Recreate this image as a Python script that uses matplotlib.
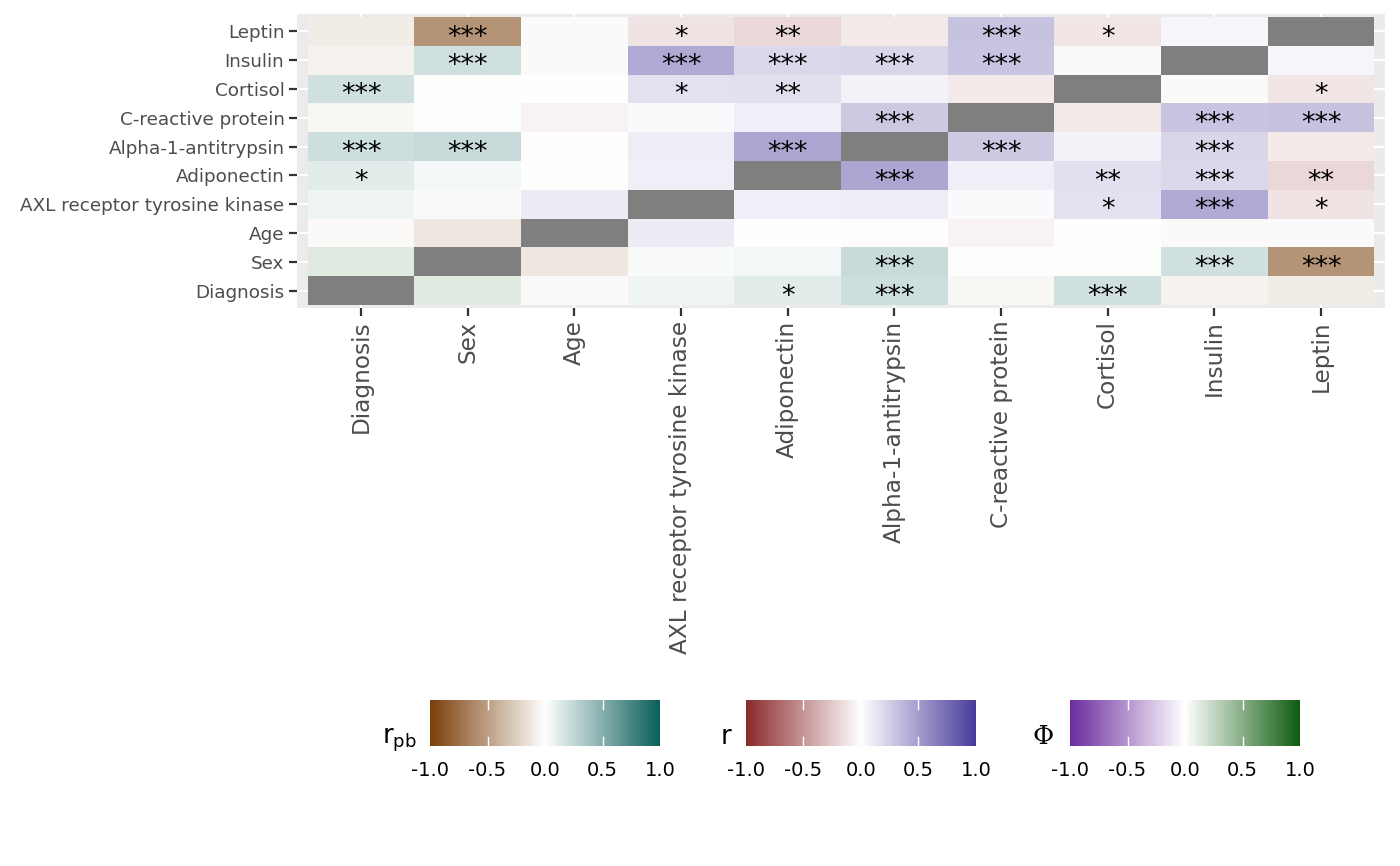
import numpy as np
import matplotlib
matplotlib.use("Agg")
import matplotlib.pyplot as plt
from matplotlib.colors import LinearSegmentedColormap, ListedColormap, Normalize
from matplotlib.cm import ScalarMappable

plt.rcParams['axes.unicode_minus'] = False
plt.rcParams['mathtext.fontset'] = 'dejavusans'

# Variables (bottom to top on y, left to right on x)
VARS = ["Diagnosis", "Sex", "Age", "AXL receptor tyrosine kinase", "Adiponectin",
        "Alpha-1-antitrypsin", "C-reactive protein", "Cortisol", "Insulin", "Leptin"]
BINARY = ["Diagnosis", "Sex"]

# Lower triangle of the correlation matrix (row i, columns 0..i-1)
LOWER_VALUES = [
    [],
    [0.13],
    [-0.03, -0.12],
    [0.065, 0.03, 0.10],
    [0.12, 0.053, 0.0, 0.08],
    [0.21, 0.22, -0.01, 0.09, 0.45],
    [-0.04, 0.01, -0.06, 0.03, 0.08, 0.28],
    [0.19, -0.01, 0.0, 0.15, 0.16, 0.07, -0.10],
    [-0.07, 0.195, -0.03, 0.43, 0.20, 0.21, 0.30, -0.03],
    [-0.10, -0.56, 0.03, -0.13, -0.18, -0.10, 0.31, -0.12, 0.05],
]
LOWER_STARS = [
    [],
    [""],
    ["", ""],
    ["", "", ""],
    ["*", "", "", ""],
    ["***", "***", "", "", "***"],
    ["", "", "", "", "", "***"],
    ["***", "", "", "*", "**", "", ""],
    ["", "***", "", "***", "***", "***", "***", ""],
    ["", "***", "", "*", "**", "", "***", "*", ""],
]

# colour scales: r_pb (binary x continuous), r (continuous x continuous), Phi (binary x binary)
cmap_rpb = LinearSegmentedColormap.from_list("rpb", ["#7B3F0A", "#FFFFFF", "#0B5F5B"])
cmap_r = LinearSegmentedColormap.from_list("r", ["#8B2A2C", "#FFFFFF", "#483C9B"])
cmap_phi = LinearSegmentedColormap.from_list("phi", ["#6B2C9F", "#FFFFFF", "#0F5C0F"])
CMAPS = [cmap_rpb, cmap_r, cmap_phi]

n = len(VARS)
vals = np.full((n, n), np.nan)
stars = [["" for _ in range(n)] for _ in range(n)]
kind = np.zeros((n, n), dtype=int)
for i in range(n):
    for j in range(i):
        vals[i, j] = vals[j, i] = LOWER_VALUES[i][j]
        stars[i][j] = stars[j][i] = LOWER_STARS[i][j]
for i in range(n):
    for j in range(n):
        nb = (VARS[i] in BINARY) + (VARS[j] in BINARY)
        kind[i, j] = {1: 0, 0: 1, 2: 2}[nb]
diag = np.eye(n, dtype=bool)

fig = plt.figure(figsize=(14, 8.66), dpi=100)
ax = fig.add_axes([297 / 1400, 1 - 308 / 866, 1088 / 1400, 294 / 866])
ax.set_facecolor("#EBEBEB")
edges = np.arange(n + 1) - 0.5

for k, cm in enumerate(CMAPS):
    data = np.ma.masked_where((kind != k) | diag, vals)
    ax.pcolormesh(edges, edges, data, cmap=cm, vmin=-1, vmax=1,
                  linewidth=0, antialiased=False, zorder=2)
ax.pcolormesh(edges, edges, np.ma.masked_where(~diag, np.ones((n, n))),
              cmap=ListedColormap(["#7F7F7F"]), linewidth=0, antialiased=False, zorder=2)

for i in range(n):
    for j in range(n):
        if stars[i][j]:
            ax.text(j, i - 0.46, stars[i][j], ha="center", va="baseline", fontsize=19.5,
                    color="black", zorder=3)

ax.set_xlim(-0.6, n - 0.4)
ax.set_ylim(-0.6, n - 0.4)
ax.set_xticks(range(n))
ax.set_yticks(range(n))
ax.set_xticklabels(VARS, rotation=90, fontsize=16.7)
ax.set_yticklabels(VARS, fontsize=13.2)
ax.tick_params(length=6, width=1.6, color="#333333", labelcolor="#4D4D4D", pad=3)
ax.set_axisbelow(True)
ax.grid(color="white", linewidth=1.5, zorder=0)
for s in ax.spines.values():
    s.set_visible(False)

# legends
bars = [
    (430, cmap_rpb, r"$\mathrm{r}_{\mathrm{pb}}$", 382, {}),
    (746, cmap_r, r"$\mathrm{r}$", 720, {}),
    (1070, cmap_phi, "Φ", 1032, {"family": "DejaVu Serif"}),
]
ticks = [-1.0, -0.5, 0.0, 0.5, 1.0]
for x0, cm, title, tx, kw in bars:
    cax = fig.add_axes([x0 / 1400, 1 - 746 / 866, 230 / 1400, 46 / 866])
    cb = fig.colorbar(ScalarMappable(norm=Normalize(-1, 1), cmap=cm), cax=cax,
                      orientation="horizontal")
    cb.outline.set_visible(False)
    cb.set_ticks(ticks)
    cb.set_ticklabels([f"{t:.1f}" for t in ticks])
    cax.tick_params(length=0, labelsize=14, pad=11, labelcolor="black")
    for t in ticks[1:-1]:
        cax.axvline(t, ymin=0, ymax=0.2, color="white", lw=1)
        cax.axvline(t, ymin=0.8, ymax=1, color="white", lw=1)
    fig.text(tx / 1400, 1 - 744 / 866, title, fontsize=18.5, ha="left", va="baseline", **kw)

fig.savefig("out.png", dpi=100)
